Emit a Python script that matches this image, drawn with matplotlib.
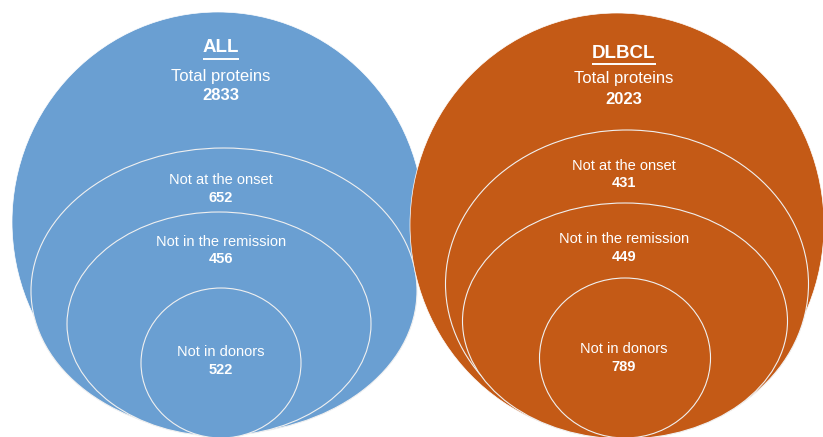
import matplotlib
matplotlib.use("Agg")
import matplotlib.pyplot as plt
from matplotlib.patches import Ellipse

plt.rcParams['font.family'] = ['Liberation Sans', 'DejaVu Sans']

# ---- data ----
groups = ["ALL", "DLBCL"]
total_label = "Total proteins"
totals = [2833, 2023]
subset_labels = ["Not at the onset", "Not in the remission", "Not in donors"]
all_counts = [652, 456, 522]
dlbcl_counts = [431, 449, 789]
counts = [all_counts, dlbcl_counts]
colors = ["#6A9FD2", "#C45A16"]

# ---- layout (pixel space) ----
W, H = 823, 437
fig = plt.figure(figsize=(W / 100, H / 100), dpi=100)
ax = fig.add_axes([0, 0, 1, 1])
ax.set_xlim(0, W)
ax.set_ylim(H, 0)
ax.axis('off')

# geometry per group: outer circle and nested ellipses (cx, cy, w, h)
outer = [(218, 222, 412, 420), (617, 225, 414, 424)]
nested = [
    [(224, 291, 386, 286), (219, 324, 304, 224), (221, 363, 160, 150)],
    [(627, 284, 363, 308), (625, 321, 325, 236), (625, 358, 171, 160)],
]
text_x = [221, 624]
title_y = [48, 53]
total_y = [(76, 96), (79, 99)]
sub_y = [[(180, 198), (242, 259), (352, 370)],
         [(166, 183), (239, 257), (349, 367)]]

fig.canvas.draw()
renderer = fig.canvas.get_renderer()

for g in range(2):
    cx, cy, w, h = outer[g]
    z = 2 * g + 1
    ax.add_patch(Ellipse((cx, cy), w, h, facecolor=colors[g],
                         edgecolor='white', lw=0.5, zorder=z))
    for (ex, ey, ew, eh) in nested[g]:
        ax.add_patch(Ellipse((ex, ey), ew, eh, facecolor=colors[g],
                             edgecolor='#F0F0F0', lw=0.8, zorder=z + 0.1))
    tx = text_x[g]
    t = ax.text(tx, title_y[g], groups[g], color='white', fontsize=13.5,
                fontweight='bold', ha='center', va='center', zorder=10)
    bb = t.get_window_extent(renderer=renderer)
    x0, x1 = bb.x0, bb.x1
    uy = title_y[g] + 10.5
    ax.plot([x0, x1], [uy, uy], color='white', lw=1.4, zorder=10,
            solid_capstyle='butt')
    ax.text(tx, total_y[g][0], total_label, color='white', fontsize=12,
            ha='center', va='center', zorder=10)
    ax.text(tx, total_y[g][1], str(totals[g]), color='white', fontsize=12,
            fontweight='bold', ha='center', va='center', zorder=10)
    for i, lab in enumerate(subset_labels):
        ax.text(tx, sub_y[g][i][0], lab, color='white', fontsize=10.5,
                ha='center', va='center', zorder=10)
        ax.text(tx, sub_y[g][i][1], str(counts[g][i]), color='white',
                fontsize=10.5, fontweight='bold', ha='center', va='center',
                zorder=10)

fig.savefig("out.png", dpi=100, facecolor='white')
